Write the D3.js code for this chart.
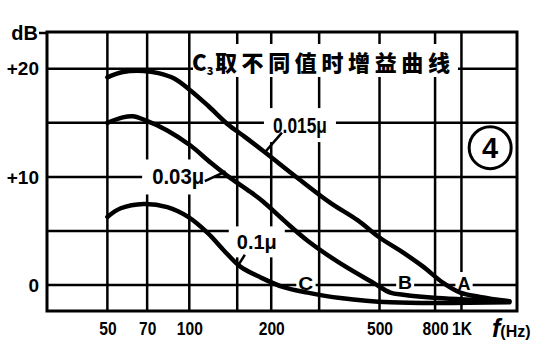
<!DOCTYPE html>
<html>
<head>
<meta charset="utf-8">
<script src="https://cdn.jsdelivr.net/npm/d3@7"></script>
<style>
body { margin: 0; background: #fff; }
text { font-family: "Liberation Sans", Arial, sans-serif; font-weight: bold; fill: #000; }
</style>
</head>
<body>
<div id="canvas"></div>
<script>
// axes
var freqTicks = [50, 70, 100, 200, 500, 800, 1000];
var freqTickLabels = ["50", "70", "100", "200", "500", "800", "1K"];
var freqGrid = [50, 70, 100, 150, 200, 300, 500, 800, 1000];
var gainTicks = [20, 10, 0];
var gainTickLabels = ["+20", "+10", "0"];
var gainGrid = [0, 5, 10, 15, 20];

// curve A : C3 = 0.015u
var freqA = [50, 57, 68, 77, 88, 101, 117, 138, 158, 187, 250, 330, 415, 500, 611, 723, 857, 990, 1170, 1500];
var gainA = [19.2, 19.7, 19.8, 19.6, 19.1, 18.0, 16.6, 14.9, 13.8, 12.4, 9.9, 7.6, 6.0, 4.4, 3.0, 1.7, 0.2, -0.7, -1.1, -1.5];
// curve B : C3 = 0.03u
var freqB = [50, 57, 62, 68, 83, 101, 120, 138, 168, 187, 222, 272, 359, 475, 548, 611, 815, 1500];
var gainB = [15.0, 15.5, 15.6, 15.3, 14.3, 12.9, 11.3, 10.1, 8.6, 7.7, 6.0, 4.1, 2.0, 0.2, -0.7, -0.9, -1.2, -1.5];
// curve C : C3 = 0.1u
var freqC = [50, 56, 68, 83, 99, 117, 134, 154, 183, 222, 272, 359, 548, 1500];
var gainC = [6.3, 7.1, 7.5, 7.2, 6.3, 4.8, 3.2, 1.7, 0.7, -0.2, -0.7, -1.2, -1.6, -1.6];

var canvasWidth = 558, canvasHeight = 359;
var plotLeft = 47, plotRight = 517, plotTop = 32, plotBottom = 311;

var svg = d3.select("#canvas").append("svg")
    .attr("width", canvasWidth)
    .attr("height", canvasHeight)
    .attr("viewBox", "0 0 " + canvasWidth + " " + canvasHeight);

var x = d3.scaleLog().domain([30, 1600]).range([plotLeft, plotRight]);
var y = d3.scaleLinear().domain([-2.4, 23.4]).range([plotBottom, plotTop]);

// grid
svg.append("g").selectAll("line").data(freqGrid).join("line")
    .attr("x1", d => x(d)).attr("x2", d => x(d))
    .attr("y1", plotTop).attr("y2", plotBottom)
    .attr("stroke", "#000").attr("stroke-width", 2.5);

svg.append("g").selectAll("line").data(gainGrid).join("line")
    .attr("x1", plotLeft).attr("x2", plotRight)
    .attr("y1", d => y(d)).attr("y2", d => y(d))
    .attr("stroke", "#000").attr("stroke-width", 2.5);

// frame
svg.append("rect")
    .attr("x", plotLeft).attr("y", plotTop)
    .attr("width", plotRight - plotLeft).attr("height", plotBottom - plotTop)
    .attr("fill", "none").attr("stroke", "#000").attr("stroke-width", 3);

svg.append("line")
    .attr("x1", plotLeft - 8).attr("x2", plotLeft)
    .attr("y1", plotTop + 1).attr("y2", plotTop + 1)
    .attr("stroke", "#000").attr("stroke-width", 2.5);

// title, white behind it breaks the grid
svg.append("rect")
    .attr("x", 193).attr("y", 44).attr("width", 265).attr("height", 33)
    .attr("fill", "#fff");

var title = svg.append("text")
    .attr("x", 192).attr("y", 71)
    .style("font-family", "'Noto Sans CJK SC', sans-serif")
    .style("font-weight", "900")
    .style("font-size", "22px");
title.append("tspan").text("C");
title.append("tspan").attr("dy", 4).style("font-size", "11px").text("3");
svg.append("text")
    .attr("x", 215).attr("y", 71)
    .attr("textLength", 235)
    .attr("lengthAdjust", "spacing")
    .style("font-family", "'Noto Sans CJK SC', sans-serif")
    .style("font-weight", "900")
    .style("font-size", "22px")
    .text("取不同值时增益曲线");

// circled 4
svg.append("circle")
    .attr("cx", x(1275)).attr("cy", y(12.7)).attr("r", 21)
    .attr("fill", "#fff").attr("stroke", "#000").attr("stroke-width", 3);
svg.append("text")
    .attr("x", x(1275)).attr("y", y(12.7) + 10)
    .attr("text-anchor", "middle")
    .style("font-size", "29px")
    .text("4");

// curve labels
var labels = [
    {t: "0.015μ", f: 255, g: 14.1, size: 22, w: 54, pad: 9},
    {t: "0.03μ", f: 91, g: 9.3, size: 22, w: 52, pad: 10},
    {t: "0.1μ", f: 177, g: 3.3, size: 21, w: 40, pad: 8},
    {t: "C", f: 268, g: -0.46, size: 19, w: 15, pad: 2},
    {t: "B", f: 621, g: -0.37, size: 19, w: 14, pad: 2},
    {t: "A", f: 1021, g: -0.46, size: 19, w: 13, pad: 2}
];

var bgLayer = svg.append("g");
var lineLayer = svg.append("g");
var textLayer = svg.append("g");

var labelText = textLayer.selectAll("text").data(labels).join("text")
    .attr("x", d => x(d.f)).attr("y", d => y(d.g))
    .attr("text-anchor", "middle")
    .attr("textLength", d => d.w)
    .attr("lengthAdjust", "spacingAndGlyphs")
    .style("font-size", d => d.size + "px")
    .text(d => d.t);

labelText.each(function(d) {
    var b = this.getBBox();
    bgLayer.append("rect")
        .attr("x", b.x - d.pad).attr("y", b.y - d.pad / 2)
        .attr("width", b.width + 2 * d.pad).attr("height", b.height + d.pad)
        .attr("fill", "#fff");
});

// pointers from labels to curves
var pointers = [
    [[219, 14.1], [190, 12.3]],
    [[114, 9.6], [136, 10.5]],
    [[160, 2.8], [151, 1.8]]
];
lineLayer.selectAll("line").data(pointers).join("line")
    .attr("x1", d => x(d[0][0])).attr("y1", d => y(d[0][1]))
    .attr("x2", d => x(d[1][0])).attr("y2", d => y(d[1][1]))
    .attr("stroke", "#000").attr("stroke-width", 2.5);

// curves
var line = d3.line()
    .x(d => x(d[0]))
    .y(d => y(d[1]))
    .curve(d3.curveCatmullRom.alpha(0.5));

var curves = [d3.zip(freqA, gainA), d3.zip(freqB, gainB), d3.zip(freqC, gainC)];
lineLayer.selectAll("path").data(curves).join("path")
    .attr("d", line)
    .attr("fill", "none")
    .attr("stroke", "#000")
    .attr("stroke-width", 4.5)
    .attr("stroke-linecap", "round");

// axis labels
var xAxis = d3.axisBottom(x)
    .tickValues(freqTicks)
    .tickFormat((d, i) => freqTickLabels[i])
    .tickSize(0)
    .tickPadding(11);
var gx = svg.append("g").attr("transform", "translate(0," + plotBottom + ")").call(xAxis);
gx.select(".domain").remove();
gx.selectAll("text").attr("fill", "#000")
    .style("font-size", "19px")
    .style("font-family", "'Liberation Sans', Arial, sans-serif")
    .style("font-weight", "bold")
    .each(function() {
        // the scan uses a narrow face
        d3.select(this)
            .attr("textLength", this.getComputedTextLength() * 0.82)
            .attr("lengthAdjust", "spacingAndGlyphs");
    });

var yAxis = d3.axisLeft(y)
    .tickValues(gainTicks)
    .tickFormat((d, i) => gainTickLabels[i])
    .tickSize(0)
    .tickPadding(8);
var gy = svg.append("g").attr("transform", "translate(" + plotLeft + ",0)").call(yAxis);
gy.select(".domain").remove();
gy.selectAll("text").attr("fill", "#000")
    .style("font-size", "19px")
    .style("font-family", "'Liberation Sans', Arial, sans-serif")
    .style("font-weight", "bold");

svg.append("text")
    .attr("x", plotLeft - 9).attr("y", plotTop + 8)
    .attr("text-anchor", "end")
    .style("font-size", "20px")
    .text("dB");

var fl = svg.append("text")
    .attr("x", 492).attr("y", 337);
fl.append("tspan").style("font-size", "25px").style("font-style", "italic").text("f");
fl.append("tspan").style("font-size", "16px").text("(Hz)");
</script>
</body>
</html>
